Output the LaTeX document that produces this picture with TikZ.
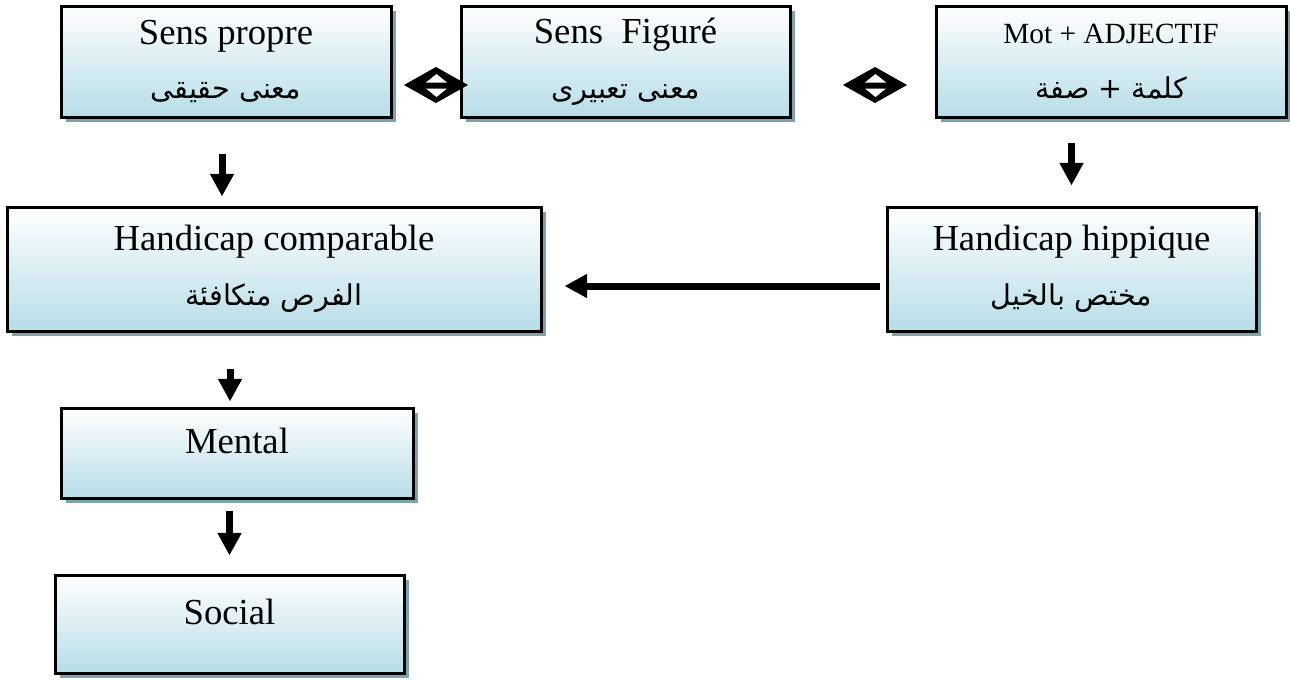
\documentclass[tikz,border=0pt]{standalone}
\usepackage{fontspec}
\setmainfont{Liberation Serif}
\newfontfamily\arabicfont[Script=Arabic]{DejaVu Sans}
\TeXXeTstate=1
\usetikzlibrary{arrows.meta,shadows}
\definecolor{boxblue}{RGB}{183,221,232}
\definecolor{shadowblue}{RGB}{128,160,172}
\newcommand{\ar}[1]{{\arabicfont\fontsize{21.5}{41}\selectfont\beginR #1\endR}}

\begin{document}
\begin{tikzpicture}[
    x=0.75pt, y=-0.75pt,
    card/.style={rectangle, draw=black, line width=2.25pt,
                 top color=white, bottom color=boxblue,
                 drop shadow={shadow xshift=3.75pt, shadow yshift=-3.75pt,
                              fill=shadowblue, opacity=1},
                 minimum height=83.25pt, align=center, inner sep=0pt,
                 font=\fontsize{27.5}{41}\selectfont},
    single/.style={text depth=18pt},
    fat/.style={-{Triangle[length=17pt, width=17pt]}, line width=5.25pt},
    twoway/.pic={
        \fill (-32,0) -- (0,-18) -- (32,0) -- (0,18) -- cycle;
        \fill[white] (-10,-2.5) -- (11,-2.5) -- (0.5,-11) -- cycle;
        \fill[white] (-10,3.5) -- (11,3.5) -- (0.5,12) -- cycle;
    }
]
\useasboundingbox (0,0) rectangle (1290,679);

% Nodes
\node[card, minimum width=247.5pt] (propre) at (226,61.5) {Sens propre\\\ar{معنى حقيقى}};
\node[card, minimum width=246.75pt] (figure) at (625.5,61.5) {Sens\ \ Figuré\\\ar{معنى تعبيرى}};
\node[card, minimum width=262.5pt] (mot) at (1111,61.5) {{\fontsize{22}{41}\selectfont Mot + ADJECTIF}\\\ar{كلمة + صفة}};
\node[card, minimum width=400.5pt, minimum height=93pt] (comparable) at (274,269) {Handicap comparable\\\ar{الفرص متكافئة}};
\node[card, minimum width=276.75pt, minimum height=93pt] (hippique) at (1071.5,269) {Handicap hippique\\\ar{مختص بالخيل}};
\node[card, single, minimum width=264pt, minimum height=67.5pt] (mental) at (237,453) {Mental};
\node[card, single, minimum width=261.75pt, minimum height=73.5pt] (social) at (229.5,624) {Social};

% Double arrows
\pic (swapA) at (436,85) {twoway};
\pic (swapB) at (875,85) {twoway};

% Arrows
\draw[fat, shorten <=26.25pt, shorten >=6.75pt] ([xshift=-3pt]propre.south) -- ([xshift=-3pt]propre.south |- comparable.north);
\draw[fat, shorten <=18pt, shorten >=15pt] (hippique.north |- mot.south) -- (hippique.north);
\draw[fat, shorten <=4.5pt, shorten >=16.5pt] ([yshift=-12.75pt]hippique.west) -- ([yshift=-12.75pt]hippique.west -| comparable.east);
\draw[fat, shorten <=27pt, shorten >=3.75pt] ([xshift=-5.25pt]mental.north |- comparable.south) -- ([xshift=-5.25pt]mental.north);
\draw[fat, shorten <=8.25pt, shorten >=13.5pt] (social.north |- mental.south) -- (social.north);

\end{tikzpicture}
\end{document}
